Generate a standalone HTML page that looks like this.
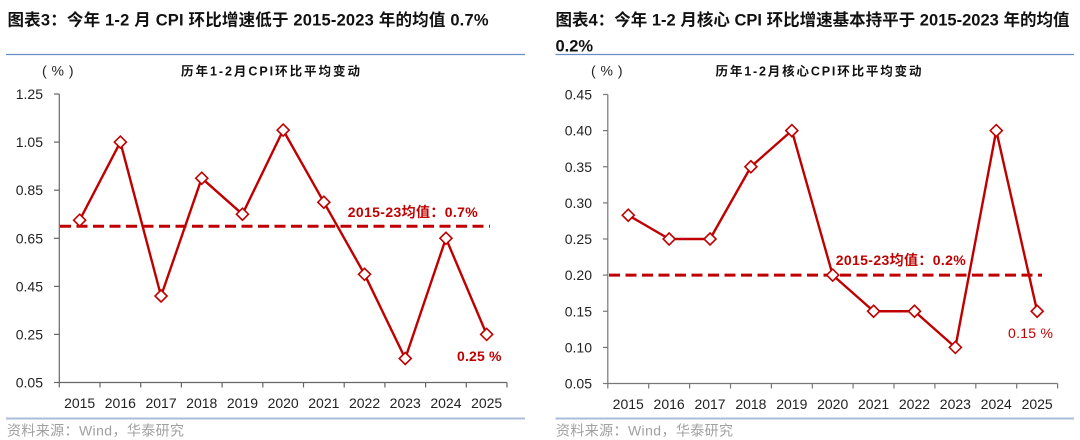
<!DOCTYPE html>
<html><head><meta charset="utf-8">
<style>
html,body{margin:0;padding:0;background:#fff;}
svg{display:block;}
text{font-family:"Liberation Sans","Noto Sans CJK SC",sans-serif;}
</style></head>
<body>
<svg width="1080" height="440" viewBox="0 0 1080 440" xmlns="http://www.w3.org/2000/svg">
<!-- Titles -->
<text x="7.5" y="25.5" font-size="16.5" font-weight="bold" fill="#111" textLength="481" lengthAdjust="spacing">图表3：今年 1-2 月 CPI 环比增速低于 2015-2023 年的均值 0.7%</text>
<text x="555.5" y="25.5" font-size="16.5" font-weight="bold" fill="#111" textLength="514" lengthAdjust="spacing">图表4：今年 1-2 月核心 CPI 环比增速基本持平于 2015-2023 年的均值</text>
<text x="555.5" y="51.5" font-size="16.5" font-weight="bold" fill="#111">0.2%</text>
<line x1="6" y1="54.5" x2="525" y2="54.5" stroke="#6a8dc6" stroke-width="1.2"/>
<line x1="555.5" y1="54.5" x2="1074" y2="54.5" stroke="#6a8dc6" stroke-width="1.2"/>

<!-- Chart subtitles -->
<text x="42" y="75.5" font-size="14" fill="#222" textLength="31.5" lengthAdjust="spacing">(%)</text>
<text x="181" y="75.5" font-size="12.5" font-weight="bold" fill="#111" textLength="179" lengthAdjust="spacing">历年1-2月CPI环比平均变动</text>
<text x="591" y="75.5" font-size="14" fill="#222" textLength="31.5" lengthAdjust="spacing">(%)</text>
<text x="715.5" y="75.5" font-size="12.5" font-weight="bold" fill="#111" textLength="206" lengthAdjust="spacing">历年1-2月核心CPI环比平均变动</text>

<!-- LEFT CHART axes -->
<g stroke="#666" stroke-width="1.2" fill="none">
<line x1="59.3" y1="94" x2="59.3" y2="382.5"/>
<line x1="59.3" y1="382.5" x2="507" y2="382.5"/>
<line x1="54" y1="94" x2="59.3" y2="94"/>
<line x1="54" y1="142.1" x2="59.3" y2="142.1"/>
<line x1="54" y1="190.2" x2="59.3" y2="190.2"/>
<line x1="54" y1="238.3" x2="59.3" y2="238.3"/>
<line x1="54" y1="286.4" x2="59.3" y2="286.4"/>
<line x1="54" y1="334.4" x2="59.3" y2="334.4"/>
<line x1="54" y1="382.5" x2="59.3" y2="382.5"/>
<line x1="59.3" y1="382.5" x2="59.3" y2="387.5"/>
<line x1="100" y1="382.5" x2="100" y2="387.5"/>
<line x1="140.7" y1="382.5" x2="140.7" y2="387.5"/>
<line x1="181.4" y1="382.5" x2="181.4" y2="387.5"/>
<line x1="222.1" y1="382.5" x2="222.1" y2="387.5"/>
<line x1="262.8" y1="382.5" x2="262.8" y2="387.5"/>
<line x1="303.5" y1="382.5" x2="303.5" y2="387.5"/>
<line x1="344.2" y1="382.5" x2="344.2" y2="387.5"/>
<line x1="384.9" y1="382.5" x2="384.9" y2="387.5"/>
<line x1="425.6" y1="382.5" x2="425.6" y2="387.5"/>
<line x1="466.3" y1="382.5" x2="466.3" y2="387.5"/>
<line x1="507" y1="382.5" x2="507" y2="387.5"/>
</g>
<g font-size="14" fill="#222" text-anchor="end">
<text x="43" y="99">1.25</text>
<text x="43" y="147.1">1.05</text>
<text x="43" y="195.2">0.85</text>
<text x="43" y="243.3">0.65</text>
<text x="43" y="291.4">0.45</text>
<text x="43" y="339.4">0.25</text>
<text x="43" y="387.5">0.05</text>
</g>
<g font-size="14" fill="#222" text-anchor="middle">
<text x="79.65" y="408">2015</text>
<text x="120.35" y="408">2016</text>
<text x="161.05" y="408">2017</text>
<text x="201.75" y="408">2018</text>
<text x="242.45" y="408">2019</text>
<text x="283.15" y="408">2020</text>
<text x="323.85" y="408">2021</text>
<text x="364.55" y="408">2022</text>
<text x="405.25" y="408">2023</text>
<text x="445.95" y="408">2024</text>
<text x="486.65" y="408">2025</text>
</g>
<line x1="60" y1="226.2" x2="490" y2="226.2" stroke="#c00000" stroke-width="3" stroke-dasharray="11,5.5"/>
<polyline fill="none" stroke="#c00000" stroke-width="2.4" stroke-linejoin="round" points="79.65,220.2 120.35,142.1 161.05,296 201.75,178.2 242.45,214.2 283.15,130.1 323.85,202.2 364.55,274.3 405.25,358.5 445.95,238.3 486.65,334.4"/>
<g fill="#fff" stroke="#c00000" stroke-width="1.6">
<path d="M79.65,214.2 l6,6 l-6,6 l-6,-6z"/>
<path d="M120.35,136.1 l6,6 l-6,6 l-6,-6z"/>
<path d="M161.05,290 l6,6 l-6,6 l-6,-6z"/>
<path d="M201.75,172.2 l6,6 l-6,6 l-6,-6z"/>
<path d="M242.45,208.2 l6,6 l-6,6 l-6,-6z"/>
<path d="M283.15,124.1 l6,6 l-6,6 l-6,-6z"/>
<path d="M323.85,196.2 l6,6 l-6,6 l-6,-6z"/>
<path d="M364.55,268.3 l6,6 l-6,6 l-6,-6z"/>
<path d="M405.25,352.5 l6,6 l-6,6 l-6,-6z"/>
<path d="M445.95,232.3 l6,6 l-6,6 l-6,-6z"/>
<path d="M486.65,328.4 l6,6 l-6,6 l-6,-6z"/>
</g>
<text x="347.7" y="217" font-size="14" font-weight="bold" fill="#c00000" textLength="130" lengthAdjust="spacing">2015-23均值：0.7%</text>
<text x="457" y="361" font-size="14" font-weight="bold" fill="#c00000" textLength="44.5" lengthAdjust="spacing">0.25 %</text>

<!-- RIGHT CHART axes -->
<g stroke="#777" stroke-width="1.2" fill="none">
<line x1="607.8" y1="94.5" x2="607.8" y2="383.5"/>
<line x1="607.8" y1="383.5" x2="1057.6" y2="383.5"/>
<line x1="603" y1="94.5" x2="607.8" y2="94.5"/>
<line x1="603" y1="130.6" x2="607.8" y2="130.6"/>
<line x1="603" y1="166.75" x2="607.8" y2="166.75"/>
<line x1="603" y1="202.9" x2="607.8" y2="202.9"/>
<line x1="603" y1="239" x2="607.8" y2="239"/>
<line x1="603" y1="275.1" x2="607.8" y2="275.1"/>
<line x1="603" y1="311.25" x2="607.8" y2="311.25"/>
<line x1="603" y1="347.4" x2="607.8" y2="347.4"/>
<line x1="603" y1="383.5" x2="607.8" y2="383.5"/>
<line x1="607.8" y1="383.5" x2="607.8" y2="388.5"/>
<line x1="648.7" y1="383.5" x2="648.7" y2="388.5"/>
<line x1="689.6" y1="383.5" x2="689.6" y2="388.5"/>
<line x1="730.5" y1="383.5" x2="730.5" y2="388.5"/>
<line x1="771.4" y1="383.5" x2="771.4" y2="388.5"/>
<line x1="812.3" y1="383.5" x2="812.3" y2="388.5"/>
<line x1="853.1" y1="383.5" x2="853.1" y2="388.5"/>
<line x1="894" y1="383.5" x2="894" y2="388.5"/>
<line x1="934.9" y1="383.5" x2="934.9" y2="388.5"/>
<line x1="975.8" y1="383.5" x2="975.8" y2="388.5"/>
<line x1="1016.7" y1="383.5" x2="1016.7" y2="388.5"/>
<line x1="1057.6" y1="383.5" x2="1057.6" y2="388.5"/>
</g>
<g font-size="14" fill="#222" text-anchor="end">
<text x="592" y="99.5">0.45</text>
<text x="592" y="135.6">0.40</text>
<text x="592" y="171.75">0.35</text>
<text x="592" y="207.9">0.30</text>
<text x="592" y="244">0.25</text>
<text x="592" y="280.1">0.20</text>
<text x="592" y="316.25">0.15</text>
<text x="592" y="352.4">0.10</text>
<text x="592" y="388.5">0.05</text>
</g>
<g font-size="14" fill="#222" text-anchor="middle">
<text x="628.25" y="409">2015</text>
<text x="669.14" y="409">2016</text>
<text x="710.03" y="409">2017</text>
<text x="750.92" y="409">2018</text>
<text x="791.81" y="409">2019</text>
<text x="832.7" y="409">2020</text>
<text x="873.59" y="409">2021</text>
<text x="914.48" y="409">2022</text>
<text x="955.37" y="409">2023</text>
<text x="996.26" y="409">2024</text>
<text x="1037.15" y="409">2025</text>
</g>
<line x1="609" y1="275.1" x2="1042" y2="275.1" stroke="#c00000" stroke-width="3" stroke-dasharray="11,5.5"/>
<polyline fill="none" stroke="#c00000" stroke-width="2.4" stroke-linejoin="round" points="628.25,215.2 669.14,239 710.03,239 750.92,166.75 791.81,130.6 832.7,275.1 873.59,311.25 914.48,311.25 955.37,347.4 996.26,130.6 1037.15,311.25"/>
<g fill="#fff" stroke="#c00000" stroke-width="1.6">
<path d="M628.25,209.2 l6,6 l-6,6 l-6,-6z"/>
<path d="M669.14,233 l6,6 l-6,6 l-6,-6z"/>
<path d="M710.03,233 l6,6 l-6,6 l-6,-6z"/>
<path d="M750.92,160.75 l6,6 l-6,6 l-6,-6z"/>
<path d="M791.81,124.6 l6,6 l-6,6 l-6,-6z"/>
<path d="M832.7,269.1 l6,6 l-6,6 l-6,-6z"/>
<path d="M873.59,305.25 l6,6 l-6,6 l-6,-6z"/>
<path d="M914.48,305.25 l6,6 l-6,6 l-6,-6z"/>
<path d="M955.37,341.4 l6,6 l-6,6 l-6,-6z"/>
<path d="M996.26,124.6 l6,6 l-6,6 l-6,-6z"/>
<path d="M1037.15,305.25 l6,6 l-6,6 l-6,-6z"/>
</g>
<text x="835.7" y="265" font-size="14" font-weight="bold" fill="#c00000" textLength="130" lengthAdjust="spacing">2015-23均值：0.2%</text>
<text x="1008" y="338" font-size="14" fill="#c00000" textLength="45" lengthAdjust="spacing">0.15 %</text>

<!-- Bottom separators and sources -->
<line x1="6" y1="418.5" x2="525" y2="418.5" stroke="#a9bcd8" stroke-width="2"/>
<line x1="555.5" y1="418.5" x2="1074" y2="418.5" stroke="#a9bcd8" stroke-width="2"/>
<text x="7" y="435.5" font-size="14" fill="#a0a0a0" textLength="177" lengthAdjust="spacing">资料来源：Wind，华泰研究</text>
<text x="556" y="435.5" font-size="14" fill="#a0a0a0" textLength="177" lengthAdjust="spacing">资料来源：Wind，华泰研究</text>
</svg>
</body></html>
